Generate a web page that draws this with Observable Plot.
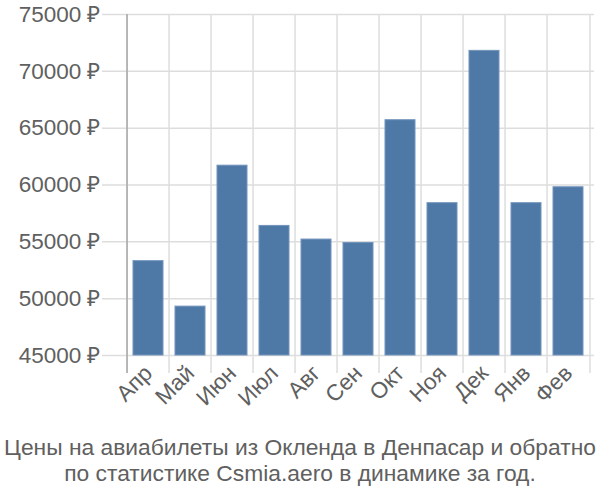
<!DOCTYPE html>
<html>
<head>
<meta charset="utf-8">
<script src="https://cdn.jsdelivr.net/npm/d3@7"></script>
<script src="https://cdn.jsdelivr.net/npm/@observablehq/plot@0.6"></script>
<style>
  html, body { margin: 0; padding: 0; background: #fff; }
  #chart { width: 600px; }
  .caption { width: 600px; text-align: center; font-family: "Liberation Sans", Arial, sans-serif; font-size: 22.8px; line-height: 26px; color: #606060; margin-top: 9px; white-space: nowrap; }
</style>
</head>
<body>
<div id="chart"></div>
<div class="caption">Цены на авиабилеты из Окленда в Денпасар и обратно<br>по статистике Csmia.aero в динамике за год.</div>
<script>
const months = ["Апр","Май","Июн","Июл","Авг","Сен","Окт","Ноя","Дек","Янв","Фев"];
const prices = [53300, 49300, 61700, 56400, 55200, 54900, 65700, 58400, 71800, 58400, 59800];
const yTicks = [45000, 50000, 55000, 60000, 65000, 70000, 75000];
const yDomain = [45000, 75000];

const data = months.map((m, i) => ({month: m, price: prices[i]}));

const W = 600, H = 425, ML = 122, MR = 6;
const step = (W - ML - MR) / months.length;

const chart = Plot.plot({
  width: W,
  height: H,
  marginLeft: ML,
  marginRight: MR,
  marginTop: 14,
  marginBottom: 70,
  style: {fontFamily: "'Liberation Sans', Arial, sans-serif", fontSize: "22.5px", color: "#606060", background: "#fff", overflow: "visible"},
  x: {domain: months, paddingInner: 0.28, paddingOuter: 0.14, label: null},
  y: {domain: yDomain, clamp: true, label: null},
  marks: [
    Plot.ruleY(yTicks, {stroke: "#dddddd", strokeWidth: 1.5, insetLeft: -20}),
    Plot.ruleX(months, {x: d => d, dx: -step / 2, stroke: "#dddddd", strokeWidth: 1.5, insetBottom: -18}),
    Plot.ruleX([months[months.length - 1]], {x: d => d, dx: step / 2, stroke: "#dddddd", strokeWidth: 1.5, insetBottom: -18}),
    Plot.barY(data, {x: "month", y1: yDomain[0], y2: "price", fill: "#4e79a7", stroke: "#7394bb", strokeWidth: 1}),
    Plot.ruleX([months[0]], {x: d => d, dx: -step / 2, stroke: "#a8a8a8", strokeWidth: 1.5, insetBottom: -18}),
    Plot.axisY(yTicks, {tickSize: 0, tickPadding: 22, tickFormat: d => d + " ₽", fill: "#606060"}),
    Plot.axisX({tickSize: 0, tickPadding: 14, tickRotate: -45, fill: "#606060"})
  ]
});
document.getElementById("chart").appendChild(chart);
</script>
</body>
</html>
